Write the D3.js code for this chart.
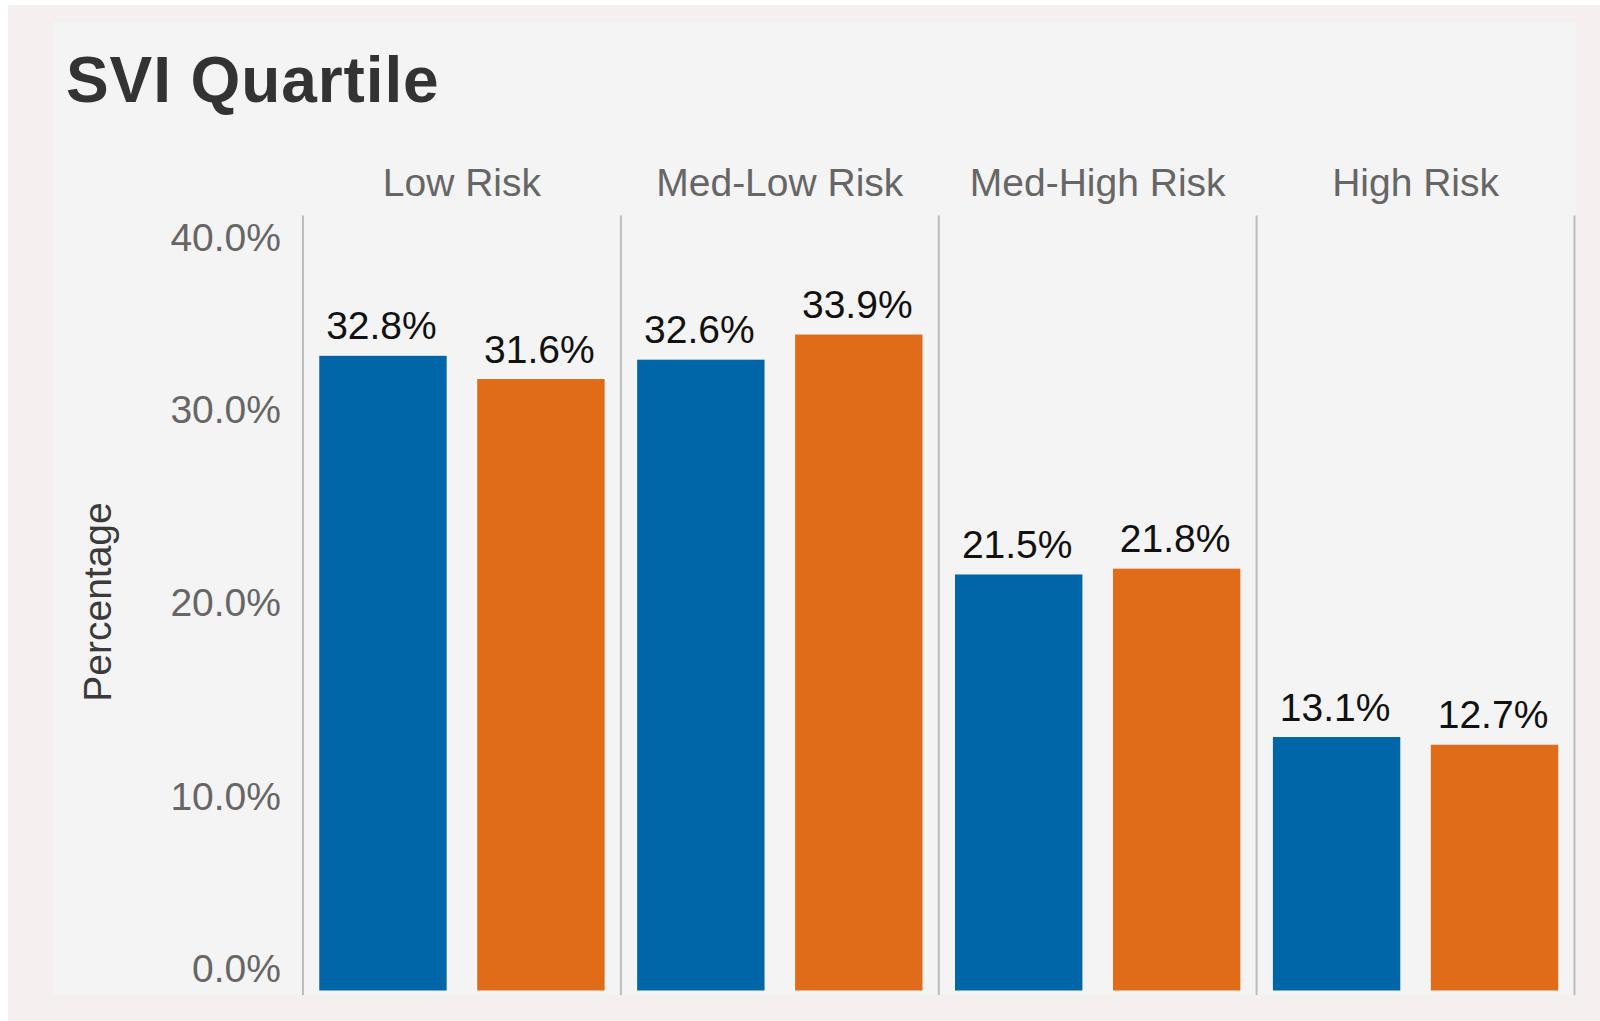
<!DOCTYPE html>
<html>
<head>
<meta charset="utf-8">
<script src="https://cdn.jsdelivr.net/npm/d3@7"></script>
<style>
  html, body { margin: 0; padding: 0; background: #ffffff; }
  svg { display: block; font-family: "Liberation Sans", Arial, Helvetica, sans-serif; }
</style>
</head>
<body>
<svg id="chart" width="1600" height="1021"></svg>
<script>
// SVI quartile categories and the two compared series (percent)
const categories = ["Low Risk", "Med-Low Risk", "Med-High Risk", "High Risk"];
const seriesKeys = ["first", "second"];
const firstValues = [32.8, 32.6, 21.5, 13.1];
const secondValues = [31.6, 33.9, 21.8, 12.7];
const yTickValues = [0, 10, 20, 30, 40];
const seriesColors = ["#0066a7", "#e06c1a"];

const rows = categories.map((c, i) => ({
  category: c,
  values: [
    { key: seriesKeys[0], value: firstValues[i] },
    { key: seriesKeys[1], value: secondValues[i] }
  ]
}));

const svg = d3.select("#chart");

// outer frame and inner panel
svg.append("rect").attr("x", 8).attr("y", 5).attr("width", 1592).attr("height", 1016).attr("fill", "#f5efef");
svg.append("rect").attr("x", 53).attr("y", 22).attr("width", 1523).attr("height", 973).attr("fill", "#f4f4f4");

// title
svg.append("text")
  .attr("x", 66).attr("y", 102)
  .attr("font-size", 64).attr("font-weight", "bold")
  .attr("letter-spacing", 0.9)
  .attr("fill", "#333333")
  .text("SVI Quartile");

// scales
const plotLeft = 303, plotRight = 1574.5;
const plotTop = 216.5, plotBottom = 990.5, lineBottom = 995;

const x0 = d3.scaleBand().domain(categories).range([plotLeft, plotRight]).padding(0);
const x1 = d3.scaleBand().domain(seriesKeys).range([0, x0.bandwidth()])
  .paddingInner(0.1935).paddingOuter(0.103);
const y = d3.scaleLinear().domain([0, 40]).range([plotBottom, plotTop]);
const color = d3.scaleOrdinal().domain(seriesKeys).range(seriesColors);

// y axis
const yAxis = svg.append("g")
  .attr("transform", `translate(${plotLeft},0)`)
  .call(d3.axisLeft(y).tickValues(yTickValues).tickFormat(d => d.toFixed(1) + "%").tickSize(0).tickPadding(22));
yAxis.select(".domain").remove();
yAxis.selectAll("text")
  .attr("font-size", 39)
  .attr("font-family", "'Liberation Sans', Arial, sans-serif")
  .attr("fill", "#666666")
  .attr("y", d => d === 40 ? 22 : (d === 0 ? -21 : 0));

// y axis title
svg.append("text")
  .attr("transform", "translate(111,602) rotate(-90)")
  .attr("text-anchor", "middle")
  .attr("font-size", 39)
  .attr("fill", "#3a3a3a")
  .text("Percentage");

// column separators (left edge of each column plus the closing line)
const sepX = categories.map(c => x0(c)).concat([plotRight]);
svg.append("g").selectAll("line")
  .data(sepX)
  .join("line")
  .attr("x1", d => d).attr("x2", d => d)
  .attr("y1", plotTop - 1).attr("y2", lineBottom)
  .attr("stroke", "#bdbdbd").attr("stroke-width", 2);

// column headers
svg.append("g").selectAll("text")
  .data(categories)
  .join("text")
  .attr("x", d => x0(d) + x0.bandwidth() / 2)
  .attr("y", 196)
  .attr("text-anchor", "middle")
  .attr("font-size", 39)
  .attr("fill", "#666666")
  .text(d => d);

// bars and value labels
const groups = svg.append("g").selectAll("g")
  .data(rows)
  .join("g")
  .attr("transform", d => `translate(${x0(d.category)},0)`);

groups.selectAll("rect")
  .data(d => d.values)
  .join("rect")
  .attr("x", d => x1(d.key))
  .attr("width", x1.bandwidth())
  .attr("y", d => y(d.value))
  .attr("height", d => y(0) - y(d.value))
  .attr("fill", d => color(d.key));

groups.selectAll("text")
  .data(d => d.values)
  .join("text")
  .attr("x", d => x1(d.key) + x1.bandwidth() / 2 - 1.5)
  .attr("y", d => y(d.value) - 16.5)
  .attr("text-anchor", "middle")
  .attr("font-size", 39)
  .attr("fill", "#111111")
  .text(d => d.value.toFixed(1) + "%");
</script>
</body>
</html>
